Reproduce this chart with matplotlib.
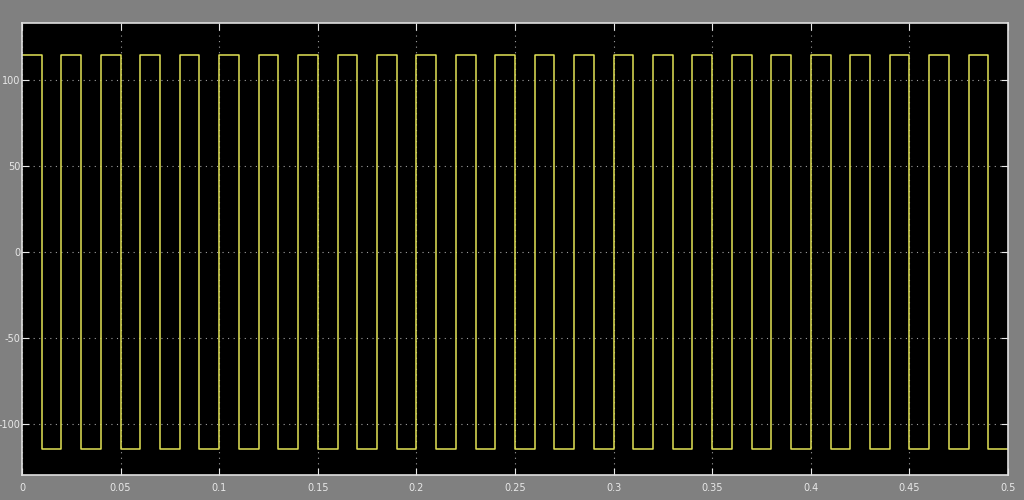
import matplotlib
matplotlib.use("Agg")
import matplotlib.pyplot as plt

plt.rcParams["axes.unicode_minus"] = False

# square wave switching instants (s) and level held after each instant
switch_t = [0.00, 0.01, 0.02, 0.03, 0.04, 0.05, 0.06, 0.07, 0.08, 0.09,
            0.10, 0.11, 0.12, 0.13, 0.14, 0.15, 0.16, 0.17, 0.18, 0.19,
            0.20, 0.21, 0.22, 0.23, 0.24, 0.25, 0.26, 0.27, 0.28, 0.29,
            0.30, 0.31, 0.32, 0.33, 0.34, 0.35, 0.36, 0.37, 0.38, 0.39,
            0.40, 0.41, 0.42, 0.43, 0.44, 0.45, 0.46, 0.47, 0.48, 0.49,
            0.50]
level = [115, -115, 115, -115, 115, -115, 115, -115, 115, -115,
         115, -115, 115, -115, 115, -115, 115, -115, 115, -115,
         115, -115, 115, -115, 115, -115, 115, -115, 115, -115,
         115, -115, 115, -115, 115, -115, 115, -115, 115, -115,
         115, -115, 115, -115, 115, -115, 115, -115, 115, -115,
         -115]

x_ticks = [0, 0.05, 0.1, 0.15, 0.2, 0.25, 0.3, 0.35, 0.4, 0.45, 0.5]
x_labels = ["0", "0.05", "0.1", "0.15", "0.2", "0.25", "0.3", "0.35", "0.4", "0.45", "0.5"]
y_ticks = [-100, -50, 0, 50, 100]

fig = plt.figure(figsize=(10.24, 5), dpi=100, facecolor="#808080")
ax = fig.add_axes([22 / 1024, 25 / 500, 986 / 1024, 452 / 500], facecolor="black")

ax.step(switch_t, level, where="post", color="#e2e255", lw=1.1)

ax.set_xlim(0, 0.5)
ax.set_ylim(-130, 133.5)
ax.set_xticks(x_ticks)
ax.set_xticklabels(x_labels)
ax.set_yticks(y_ticks)
ax.grid(True, color="#a0a0a0", linestyle=(0, (1, 4)), lw=0.8)
ax.tick_params(colors="#e8e8e8", labelsize=7, direction="in", length=5,
               top=True, right=True)
ax.tick_params(axis="x", pad=6)
ax.tick_params(axis="y", pad=1)
for s in ax.spines.values():
    s.set_color("#e0e0e0")
    s.set_linewidth(1.2)

fig.savefig("out.png", dpi=100, facecolor=fig.get_facecolor())
